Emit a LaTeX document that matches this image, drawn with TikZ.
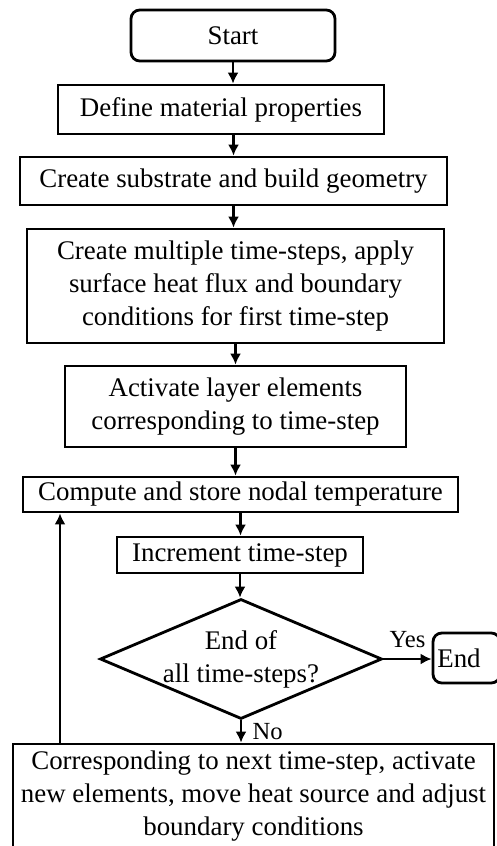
\documentclass[tikz,border=0pt]{standalone}
\usepackage{fontspec}
\setmainfont{Liberation Serif}
\usepackage{tikz}
\usetikzlibrary{arrows.meta,positioning,shapes.geometric,calc}

\begin{document}
\begin{tikzpicture}[
  every node/.style={font=\fontsize{15.3}{18.8}\selectfont},
  >={Latex[length=2.2mm,width=2.2mm]},
  line width=1.2pt,
  block/.style={draw,line width=1.6pt,align=center,inner sep=0pt},
  term/.style={block,rounded corners=5pt},
  decision/.style={draw,line width=1.6pt,shape=diamond,aspect=2.35,
                   inner sep=-3pt,align=center},
  lbl/.style={font=\fontsize{14}{16}\selectfont,inner sep=1pt}
]
\useasboundingbox (0,0) rectangle (9.94,-16.92);
\node[term]  (S)   at (4.66, -0.71) [minimum width=4.08cm,minimum height=1.02cm] {Start};
\node[block] (Mat) at (4.42, -2.19) [minimum width=6.52cm,minimum height=0.98cm] {Define material properties};
\node[block] (Geo) at (4.67, -3.62) [minimum width=8.54cm,minimum height=0.96cm] {Create substrate and build geometry};
\node[block] (TS)  at (4.71, -5.72) [minimum width=8.34cm,minimum height=2.28cm]
  {Create multiple time-steps, apply\\surface heat flux and boundary\\conditions for first time-step};
\node[block] (Act) at (4.71, -8.13) [minimum width=6.82cm,minimum height=1.62cm]
  {Activate layer elements\\corresponding to time-step};
\node[block] (Cmp) at (4.81, -9.89) [minimum width=8.70cm,minimum height=0.70cm] {Compute and store nodal temperature};
\node[block] (Inc) at (4.80,-11.10) [minimum width=4.92cm,minimum height=0.72cm] {Increment time-step};
\node[decision] (D) at (4.82,-13.18) [minimum width=5.64cm,minimum height=2.40cm] {End of\\all time-steps?};
\node[term]  (E)   at (9.33,-13.16) [minimum width=1.34cm,minimum height=1.00cm] {End\hspace*{0.3cm}};
\node[block] (Nxt) at (5.07,-15.92) [minimum width=9.62cm,minimum height=2.08cm]
  {Corresponding to next time-step, activate\\new elements, move heat source and adjust\\boundary conditions};
\coordinate (L) at (1.2,0);

\draw[->] (S.south)   -- (S.south |- Mat.north);
\draw[->] (Mat.south -| Geo.north) -- (Geo.north);
\draw[->] (Geo.south) -- (Geo.south |- TS.north);
\draw[->] (TS.south)  -- (TS.south |- Act.north);
\draw[->] (Act.south) -- (Act.south |- Cmp.north);
\draw[->] (Cmp.south) -- (Cmp.south |- Inc.north);
\draw[->] (Inc.south) -- (Inc.south |- D.north);
\draw[->] (D.east) -- node[lbl,above=5pt] {Yes} (D.east -| E.west);
\draw[->] (D.south) -- node[lbl,right=5pt] {No} (D.south |- Nxt.north);
\draw[->] (Nxt.north -| L) -- (Cmp.south -| L);
\end{tikzpicture}
\end{document}
